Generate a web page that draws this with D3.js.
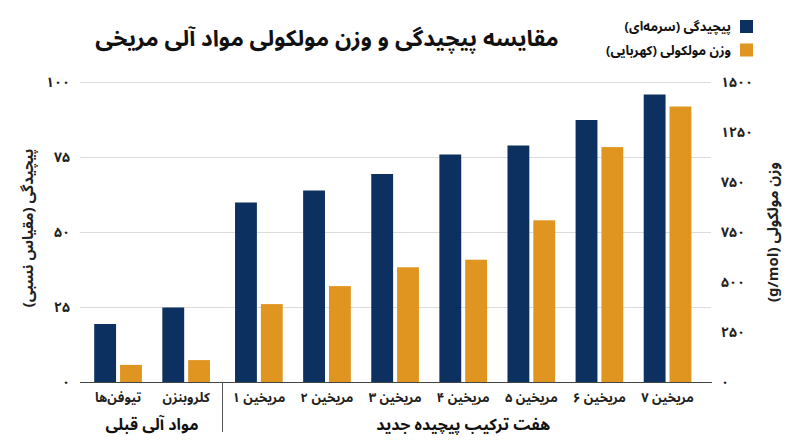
<!DOCTYPE html>
<html lang="fa">
<head>
<meta charset="utf-8">
<script src="https://cdn.jsdelivr.net/npm/d3@7"></script>
<style>
  body { margin: 0; background: #fff; }
  svg { font-family: "Noto Sans Arabic", "DejaVu Sans", sans-serif; }
  .fa { direction: rtl; unicode-bidi: embed; }
</style>
</head>
<body>
<div class="chart"></div>
<script>
// data
const categories = ['تیوفن‌ها', 'کلروبنزن', 'مریخین ۱', 'مریخین ۲', 'مریخین ۳', 'مریخین ۴', 'مریخین ۵', 'مریخین ۶', 'مریخین ۷']
const complexity = [19.5, 25, 60, 64, 69.5, 76, 79, 87.5, 96]
const weight = [88, 112, 392, 482, 576, 614, 811, 1177, 1380]
const groupNames = ['مواد آلی قبلی', 'هفت ترکیب پیچیده جدید']
const groupOf = [0, 0, 1, 1, 1, 1, 1, 1, 1]
const leftTicks = [0, 25, 50, 75, 100]
const leftTickLabels = ['۰', '۲۵', '۵۰', '۷۵', '۱۰۰']
const rightTicks = [0, 250, 500, 750, 1000, 1250, 1500]
const rightTickLabels = ['۰', '۲۵۰', '۵۰۰', '۷۵۰', '۷۵۰', '۱۲۵۰', '۱۵۰۰']
const seriesNames = ['پیچیدگی (سرمه‌ای)', 'وزن مولکولی (کهربایی)']
const colors = ['#0c3160', '#e09521']

const width = 800
const height = 447
const groupGap = 4.6

const svg = d3.select('.chart')
  .append('svg')
  .attr('width', width)
  .attr('height', height)

const x = d3.scaleBand()
  .domain(categories)
  .range([84, 712 - 10.4 - groupGap])
  .paddingInner(0.3)
  .paddingOuter(0.15)
const xs = d3.scaleBand()
  .domain([0, 1])
  .range([0, x.bandwidth()])
  .paddingInner(0.154)
const bandX = (d, i) => x(d) + (groupOf[i] == 1 ? groupGap : 0)

const yL = d3.scaleLinear().domain([0, 100]).range([382.5, 82.5])
const yR = d3.scaleLinear().domain([0, 1500]).range([382.5, 82.5])

// gridlines
svg.selectAll('.grid')
  .data(leftTicks.slice(1))
  .enter()
  .append('line')
  .attr('x1', 80)
  .attr('x2', 711)
  .attr('y1', d => yL(d))
  .attr('y2', d => yL(d))
  .attr('stroke', '#dcdcdc')
  .attr('stroke-width', 1.2)

// bars
svg.selectAll('.bar-c')
  .data(categories)
  .enter()
  .append('rect')
  .attr('x', (d, i) => bandX(d, i) + xs(0))
  .attr('y', (d, i) => yL(complexity[i]))
  .attr('width', xs.bandwidth())
  .attr('height', (d, i) => yL(0) - yL(complexity[i]))
  .attr('fill', colors[0])
svg.selectAll('.bar-w')
  .data(categories)
  .enter()
  .append('rect')
  .attr('x', (d, i) => bandX(d, i) + xs(1))
  .attr('y', (d, i) => yR(weight[i]))
  .attr('width', xs.bandwidth())
  .attr('height', (d, i) => yR(0) - yR(weight[i]))
  .attr('fill', colors[1])

// baseline
svg.append('line')
  .attr('x1', 80).attr('x2', 712)
  .attr('y1', yL(0)).attr('y2', yL(0))
  .attr('stroke', '#444')
  .attr('stroke-width', 1.2)

// left tick labels
svg.selectAll('.lt')
  .data(leftTicks)
  .enter()
  .append('text')
  .attr('x', 70)
  .attr('y', d => yL(d))
  .attr('dy', '0.35em')
  .attr('text-anchor', 'end')
  .attr('font-size', 14)
  .attr('font-weight', 'bold')
  .attr('fill', '#222')
  .text((d, i) => leftTickLabels[i])

// right tick labels
svg.selectAll('.rt')
  .data(rightTicks)
  .enter()
  .append('text')
  .attr('x', 721)
  .attr('y', d => yR(d))
  .attr('dy', '0.35em')
  .attr('text-anchor', 'start')
  .attr('font-size', 14)
  .attr('font-weight', 'bold')
  .attr('fill', '#222')
  .text((d, i) => rightTickLabels[i])

// axis titles
svg.append('text')
  .attr('class', 'fa')
  .attr('transform', 'translate(28,228) rotate(-90)')
  .attr('text-anchor', 'middle')
  .attr('dy', '0.35em')
  .attr('font-size', 15)
  .attr('font-weight', 'bold')
  .attr('fill', '#222')
  .text('پیچیدگی (مقیاس نسبی)')
svg.append('text')
  .attr('class', 'fa')
  .attr('transform', 'translate(773,232) rotate(-90)')
  .attr('text-anchor', 'middle')
  .attr('dy', '0.35em')
  .attr('font-size', 15)
  .attr('font-weight', 'bold')
  .attr('fill', '#222')
  .text('وزن مولکولی (g/mol)')

// category labels
svg.selectAll('.cat')
  .data(categories)
  .enter()
  .append('text')
  .attr('class', 'fa')
  .attr('x', (d, i) => bandX(d, i) + x.bandwidth() / 2)
  .attr('y', 397)
  .attr('dy', '0.35em')
  .attr('text-anchor', 'middle')
  .attr('font-size', 13)
  .attr('font-weight', 'bold')
  .attr('fill', '#222')
  .text(d => d)

// group labels and separator
groupNames.forEach((g, gi) => {
  const idx = categories.map((c, i) => i).filter(i => groupOf[i] == gi)
  const x0 = bandX(categories[idx[0]], idx[0])
  const last = idx[idx.length - 1]
  const x1 = bandX(categories[last], last) + x.bandwidth()
  svg.append('text')
    .attr('class', 'fa')
    .attr('x', (x0 + x1) / 2)
    .attr('y', 424)
    .attr('dy', '0.35em')
    .attr('text-anchor', 'middle')
    .attr('font-size', 16)
    .attr('font-weight', 'bold')
    .attr('fill', '#111')
    .text(g)
})
const sepX = (bandX(categories[1], 1) + x.bandwidth() + bandX(categories[2], 2)) / 2
svg.append('line')
  .attr('x1', sepX).attr('x2', sepX)
  .attr('y1', yL(0)).attr('y2', 432)
  .attr('stroke', '#555')
  .attr('stroke-width', 1)

// title
svg.append('text')
  .attr('class', 'fa')
  .attr('x', 327)
  .attr('y', 38)
  .attr('dy', '0.35em')
  .attr('text-anchor', 'middle')
  .attr('font-size', 22.5)
  .attr('font-weight', 'bold')
  .attr('fill', '#111')
  .text('مقایسه پیچیدگی و  وزن مولکولی مواد آلی مریخی')

// legend
seriesNames.forEach((s, i) => {
  svg.append('rect')
    .attr('x', 740)
    .attr('y', 20 + i * 23.5)
    .attr('width', 13)
    .attr('height', 13)
    .attr('fill', colors[i])
  svg.append('text')
    .attr('class', 'fa')
    .attr('x', 731)
    .attr('y', 26.5 + i * 23.5)
    .attr('dy', '0.35em')
    .attr('text-anchor', 'start')
    .attr('font-size', 13)
    .attr('font-weight', 'bold')
    .attr('fill', '#111')
    .text(s)
})
</script>
</body>
</html>
